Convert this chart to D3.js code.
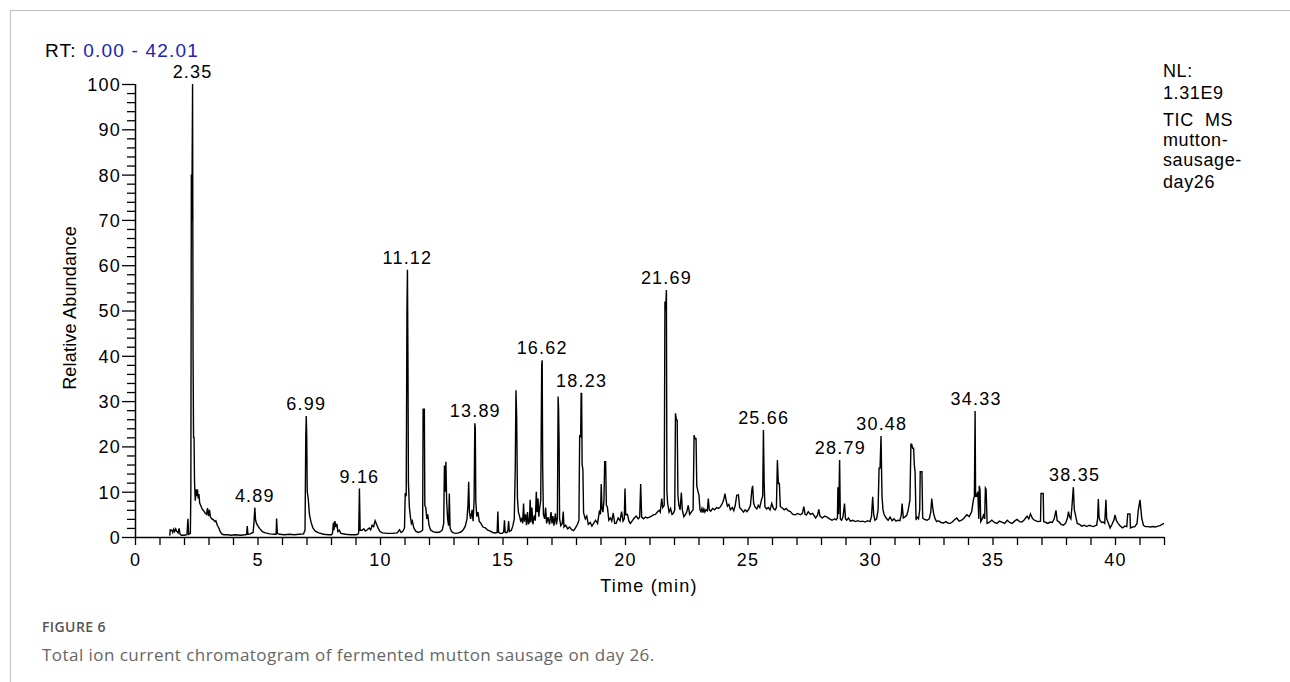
<!DOCTYPE html>
<html>
<head>
<meta charset="utf-8">
<script src="https://cdn.jsdelivr.net/npm/d3@7"></script>
<style>
  html, body { margin: 0; padding: 0; background: #ffffff; }
  svg { display: block; }
  .lbl { font-family: "Liberation Sans", Arial, sans-serif; font-size: 18px; letter-spacing: 1.2px; fill: #000; }
</style>
</head>
<body>
<svg id="chart" width="1290" height="682"></svg>
<script>
// ---------------- data ----------------
const rtRange = [0.00, 42.01];
const xTickValues = d3.range(0, 43, 1);
const xTickLabels = [0, 5, 10, 15, 20, 25, 30, 35, 40];
const yTickValues = d3.range(0, 101, 2);
const yTickLabels = [0, 10, 20, 30, 40, 50, 60, 70, 80, 90, 100];
const peakLabels = [2.35, 4.89, 6.99, 9.16, 11.12, 13.89, 16.62, 18.23, 21.69, 25.66, 28.79, 30.48, 34.33, 38.35];
const infoLines = ["NL:", "1.31E9", "TIC  MS", "mutton-", "sausage-", "day26"];

// retention time (min)
const rtMin = [
 1.42,1.44,1.50,1.54,1.58,1.62,1.66,1.70,1.76,1.80,1.84,1.90,2.00,2.12,2.16,2.19,2.26,2.28,2.30,2.32,2.35,2.37,2.39,2.41,2.43,2.46,2.49,2.52,2.55,2.58,2.61,2.64,2.68,2.74,2.80,2.86,2.92,2.96,3.00,3.04,3.08,3.14,3.20,3.26,3.30,3.36,3.42,3.48,3.54,3.62,3.80,3.90,
 4.10,4.30,4.50,4.56,4.58,4.61,4.70,4.82,4.86,4.89,4.92,4.96,5.02,5.10,5.20,5.32,5.50,5.70,5.76,5.78,5.81,5.90,6.10,6.30,6.50,6.70,6.88,6.94,6.97,6.99,7.01,7.03,7.07,7.12,7.18,7.26,7.36,7.50,7.70,7.90,
 8.02,8.06,8.10,8.12,8.16,8.20,8.24,8.28,8.34,8.40,8.60,8.80,9.00,9.10,9.13,9.16,9.19,9.26,9.34,9.40,9.48,9.56,9.62,9.68,9.74,9.80,9.86,9.92,10.00,10.10,10.30,10.50,10.70,10.80,10.86,10.94,
 11.00,11.03,11.07,11.10,11.12,11.14,11.16,11.20,11.24,11.28,11.32,11.38,11.46,11.56,11.66,11.74,11.76,11.81,11.83,11.87,11.91,11.95,12.00,12.06,12.16,12.30,12.44,12.54,12.60,12.63,12.66,12.69,12.72,12.76,12.80,12.83,12.86,12.92,13.00,13.10,13.20,13.30,13.40,13.48,13.55,13.59,13.62,13.65,13.70,13.76,13.80,13.84,13.87,13.89,13.91,13.95,14.00,14.05,14.12,14.20,14.30,14.40,14.50,
 14.60,14.70,14.78,14.81,14.84,14.90,15.00,15.05,15.08,15.11,15.18,15.22,15.25,15.28,15.36,15.42,15.48,15.52,15.55,15.58,15.61,15.65,15.70,15.74,15.78,15.82,15.86,15.89,15.94,15.98,16.02,16.06,16.10,16.13,16.16,16.20,16.24,16.30,16.34,16.38,16.41,16.45,16.48,16.52,16.56,16.60,16.62,16.64,16.67,16.72,16.76,16.80,16.86,16.92,16.98,
 17.02,17.06,17.10,17.16,17.20,17.24,17.27,17.29,17.31,17.33,17.38,17.44,17.48,17.51,17.58,17.66,17.74,17.82,17.90,17.98,18.06,18.12,18.15,18.19,18.21,18.23,18.25,18.28,18.31,18.38,18.44,18.50,18.58,18.65,18.72,18.80,18.88,18.96,19.00,19.03,19.06,19.10,19.14,19.17,19.21,19.24,19.28,19.34,19.40,19.46,19.52,19.58,19.64,19.72,19.80,19.86,19.92,19.97,20.00,20.03,20.10,20.16,20.22,20.30,20.38,20.46,20.54,20.60,20.64,20.68,20.76,20.84,20.92,
 21.00,21.08,21.16,21.24,21.32,21.40,21.44,21.50,21.54,21.60,21.63,21.66,21.69,21.71,21.74,21.80,21.86,21.92,21.98,22.03,22.06,22.10,22.13,22.16,22.20,22.25,22.30,22.34,22.40,22.46,22.52,22.58,22.64,22.72,22.78,22.82,22.86,22.90,22.93,22.98,23.02,23.06,23.10,23.14,23.18,23.22,23.26,23.30,23.36,23.40,23.44,23.50,23.58,23.66,23.74,23.82,23.90,23.98,
 24.04,24.08,24.13,24.18,24.24,24.30,24.38,24.44,24.50,24.56,24.63,24.68,24.76,24.84,24.90,24.98,25.06,25.12,25.18,25.21,25.25,25.30,25.38,25.44,25.50,25.57,25.62,25.65,25.68,25.71,25.78,25.85,25.92,25.99,26.06,26.13,26.18,26.22,26.26,26.30,26.34,26.42,26.50,26.58,26.66,26.75,26.85,26.95,
 27.05,27.16,27.24,27.30,27.35,27.41,27.48,27.57,27.66,27.78,27.86,27.91,27.96,28.05,28.15,28.25,28.35,28.45,28.55,28.62,28.67,28.69,28.72,28.76,28.79,28.84,28.90,28.96,29.00,29.05,29.12,29.20,29.30,29.40,29.50,29.60,29.70,29.80,29.90,
 30.00,30.06,30.11,30.15,30.20,30.27,30.33,30.37,30.41,30.45,30.49,30.53,30.58,30.66,30.74,30.82,30.90,30.98,31.06,31.14,31.22,31.28,31.31,31.36,31.44,31.50,31.56,31.63,31.67,31.70,31.74,31.78,31.81,31.84,31.88,31.90,31.98,32.03,32.05,32.12,32.15,32.22,32.33,32.42,32.48,32.52,32.56,32.60,32.66,32.72,32.80,32.90,
 33.00,33.10,33.20,33.27,33.36,33.45,33.54,33.64,33.74,33.84,33.95,34.05,34.15,34.22,34.26,34.29,34.31,34.35,34.40,34.44,34.46,34.49,34.52,34.58,34.63,34.68,34.71,34.74,34.78,34.86,34.97,
 35.08,35.18,35.28,35.38,35.50,35.60,35.70,35.80,35.90,36.00,36.10,36.20,36.30,36.41,36.48,36.55,36.62,36.68,36.76,36.84,36.96,36.98,37.07,37.09,37.18,37.26,37.35,37.44,37.52,37.59,37.64,37.72,37.80,37.89,37.98,
 38.06,38.10,38.15,38.20,38.24,38.30,38.34,38.37,38.41,38.46,38.55,38.64,38.74,38.85,38.95,39.05,39.12,39.20,39.25,39.29,39.32,39.35,39.39,39.46,39.52,39.58,39.63,39.66,39.72,39.80,39.88,39.96,
 40.00,40.06,40.14,40.22,40.31,40.40,40.48,40.52,40.61,40.63,40.72,40.81,40.90,40.95,41.02,41.06,41.09,41.16,41.24,41.35,41.45,41.55,41.65,41.75,41.84,41.92,42.00
];

// relative abundance (%)
const relAbundance = [
 0.3,1.6,1.5,1.0,1.7,1.2,1.8,1.3,0.9,1.9,0.6,0.4,0.4,0.5,4.0,0.6,0.8,10,80,70,100,40,22,22,12,8,10.5,9,10.5,8.5,9.5,7.5,7.0,6.2,5.8,5.3,5.0,6.4,4.6,6.0,4.4,4.0,3.8,3.4,3.6,2.6,2.0,1.2,0.7,0.5,0.5,0.4,
 0.5,0.4,0.5,0.6,2.4,0.6,0.7,1.0,3.5,6.5,3.8,3.0,2.4,1.8,1.2,0.9,0.7,0.6,0.6,4.1,0.8,0.6,0.5,0.6,0.5,0.6,0.7,1.5,22,26.7,22,10,8.5,5.0,3.4,2.0,1.3,0.9,0.6,0.5,
 0.5,0.8,3.2,1.5,3.5,2.2,2.9,1.2,1.5,0.8,0.6,0.5,0.5,0.6,1.0,10.7,1.5,1.5,1.8,1.3,1.6,2.0,1.6,2.6,2.3,3.6,2.8,2.0,1.2,0.9,0.8,0.8,0.9,1.6,1.0,1.3,
 2.0,9.7,9.0,50,59,40,12,6.5,4.5,3.0,3.5,2.0,1.3,1.0,1.2,1.5,28.2,28.2,7,6.5,4.0,5.0,2.6,1.6,1.2,1.0,1.1,1.5,3.0,15.8,10,16.6,8.0,4.0,2.5,9.6,2.0,1.2,0.9,0.8,0.9,1.1,1.6,2.4,4.0,7.0,12.2,5.5,4.0,6.0,3.5,8,25.1,24,8,4.5,5.5,3.5,3.0,2.2,2.0,1.5,1.3,
 1.0,0.9,1.0,5.6,1.0,0.8,0.8,1.2,3.7,1.0,1.0,1.5,3.5,1.2,1.5,2.4,4.0,15,32.4,26,8.5,5.5,4.5,3.6,4.0,3.0,7.4,3.4,5.0,2.6,5.5,2.8,3.5,8.2,3.2,6.5,2.8,4.8,3.6,10,5.5,8.5,4.5,6.5,8,38,39,15,5.0,4.0,6.5,3.0,4.4,2.8,5.5,
 3.0,4.6,2.5,5.2,2.8,4.0,31,28,20.7,4.0,2.5,3.0,5.6,2.2,2.6,1.8,2.2,1.6,1.4,2.0,2.8,3.7,22.5,22,31.7,31.7,16,15,5.3,4.0,4.6,2.8,3.2,2.4,3.0,3.7,3.0,5.9,5.0,11.7,6.3,5.5,8,16.6,16.6,7,6.7,3.7,4.2,3.5,5.3,3.0,3.0,4.2,3.6,5.6,3.5,4.0,10.7,4.9,5.0,3.5,3.0,3.6,4.2,4.6,4.0,4.4,11.7,4.4,4.0,4.4,4.2,
 4.4,4.6,4.9,5.0,5.5,5.9,5.5,8.5,6.5,7.0,52,50,54.5,10,7.4,5.5,6.3,5.0,5.3,6.0,27.3,25.8,25.8,9.2,7.0,6.0,9.8,6.0,4.5,4.9,5.5,7.0,5.0,5.6,6.0,22.5,21.7,21.7,11.3,10,9.2,6.0,5.6,6.3,5.4,6.2,5.5,6.0,5.8,8.5,6.0,5.7,6.3,6.0,6.5,6.3,6.7,7.5,
 8.5,9.6,8.0,6.8,7.2,6.0,6.5,5.8,7.0,9.2,9.3,6.5,6.0,5.5,6.0,5.6,6.2,7.0,10.5,11.3,7.5,6.7,6.2,7.0,6.5,8.2,9.0,23.6,12,6.7,6.2,6.5,6.0,7.4,6.3,6.0,6.5,17,11.8,11.8,6.7,6.4,6.0,6.3,5.8,5.6,5.0,4.9,
 5.2,4.9,5.2,6.7,5.0,4.9,5.6,5.0,5.2,4.2,4.8,6.1,4.6,4.2,4.6,4.4,4.0,3.7,4.0,3.8,4.2,11,5,17,4.0,3.7,4.5,7.4,4.0,3.7,4.2,3.5,3.7,3.4,3.6,3.4,3.5,3.3,3.6,
 3.4,4.5,8.9,5.0,3.7,4.0,6.0,15.2,15.2,22.3,9,6.0,4.9,4.2,3.7,4.4,3.6,4.0,3.5,3.7,3.6,5.0,7.4,4.2,4.5,4.8,6.0,8.2,20.5,20.5,19.6,19.6,15.8,14.4,3.7,4.5,4.0,6.0,14.4,14.4,4.2,3.9,3.7,4.0,5.5,8.5,6.5,5.1,4.0,3.4,3.6,3.2,
 3.1,3.4,3.0,3.0,3.3,3.8,4.2,3.5,3.7,4.2,4.9,4.5,5.6,8.2,9,27.8,9.0,9.0,10,4.0,11.3,10.5,3.4,4.0,4.8,4.0,10.8,10.5,3.0,3.2,3.7,
 3.2,3.0,3.5,3.3,3.0,3.7,3.2,3.0,3.5,3.9,3.4,3.3,3.8,4.6,4.0,5.1,4.2,3.8,3.6,3.4,3.5,9.6,9.6,3.4,3.2,3.0,3.3,3.2,4.0,5.9,3.6,3.3,2.8,2.6,3.0,
 4.2,5.6,4.4,4.0,6.5,11,6.0,5.3,4.2,3.0,2.8,2.4,2.6,2.3,2.6,2.4,2.3,2.5,2.6,4.0,8.4,4.4,3.6,3.2,3.3,3.0,8.2,4.0,3.2,2.0,2.8,3.8,
 4.9,3.6,2.9,2.4,2.0,2.4,2.3,5.1,5.1,2.0,2.2,2.3,3.0,5.9,8.2,6.0,4.2,2.6,2.3,2.3,2.2,2.3,2.2,2.4,2.5,2.8,3.0
];

// ---------------- drawing ----------------
const svg = d3.select("#chart");

// outer frame (partial page border)
svg.append("rect").attr("x", 10.5).attr("y", 10.5).attr("width", 1400).attr("height", 800)
  .attr("fill", "none").attr("stroke", "#c4c4c4").attr("stroke-width", 1.2);

const x = d3.scaleLinear().domain(rtRange).range([135, 135 + 42.01 * 24.5]);
const y = d3.scaleLinear().domain([0, 100]).range([537, 84]);

const data = rtMin.map((t, i) => ({ t, a: relAbundance[i] }));

// trace
const line = d3.line().x(d => x(d.t)).y(d => y(d.a));
svg.append("path").datum(data).attr("d", line)
  .attr("fill", "none").attr("stroke", "#000").attr("stroke-width", 1.4).attr("stroke-linejoin", "miter");

// x axis
const xAxis = d3.axisBottom(x).tickValues(xTickValues).tickSize(8)
  .tickFormat(d => xTickLabels.includes(d) ? String(d) : "");
const gx = svg.append("g").attr("transform", "translate(0,537)").call(xAxis);
gx.select(".domain").attr("d", `M${x(0)},0.5H${x(42.01)}`).attr("stroke", "#000").attr("stroke-width", 1.5);
gx.selectAll(".tick line").attr("stroke", "#000").attr("stroke-width", 1.3);
gx.selectAll(".tick text").attr("class", "lbl").attr("dy", null).attr("y", 29);

// y axis
const yAxis = d3.axisLeft(y).tickValues(yTickValues)
  .tickSize(0).tickFormat(d => yTickLabels.includes(d) ? String(d) : "");
const gy = svg.append("g").attr("transform", "translate(135,0)").call(yAxis);
gy.select(".domain").attr("d", `M0.5,${y(0)}V${y(100)}`).attr("stroke", "#000").attr("stroke-width", 1.5);
gy.selectAll(".tick line").attr("x2", d => yTickLabels.includes(d) ? -13 : -8)
  .attr("stroke", "#000").attr("stroke-width", 1.3);
gy.selectAll(".tick text").attr("class", "lbl").attr("x", -14).attr("dy", "0.36em").attr("text-anchor", "end");

// axis titles
svg.append("text").attr("class", "lbl").attr("x", 649).attr("y", 592)
  .attr("text-anchor", "middle").text("Time (min)");
svg.append("text").attr("class", "lbl")
  .attr("transform", "translate(76,308) rotate(-90)")
  .attr("text-anchor", "middle").style("letter-spacing", "0.2px").text("Relative Abundance");

// RT header
const rt = svg.append("text").attr("class", "lbl").attr("x", 45).attr("y", 57).style("font-size", "19px");
rt.append("tspan").text("RT: ");
rt.append("tspan").style("fill", "#2222b4")
  .text(`${rtRange[0].toFixed(2)} - ${rtRange[1].toFixed(2)}`);

// info block on the right
const infoY = [77, 99, 126, 146, 166, 188];
svg.append("g").selectAll("text").data(infoLines).join("text")
  .attr("class", "lbl").attr("xml:space", "preserve")
  .style("white-space", "pre").style("letter-spacing", "0.6px")
  .attr("x", 1163).attr("y", (d, i) => infoY[i])
  .text(d => d);

// peak labels
svg.append("g").selectAll("text").data(peakLabels).join("text")
  .attr("class", "lbl").attr("text-anchor", "middle")
  .attr("x", d => x(d))
  .attr("y", d => {
    const near = data.filter(p => Math.abs(p.t - d) <= 0.07);
    return y(d3.max(near, p => p.a)) - 6;
  })
  .text(d => d.toFixed(2));

// caption
svg.append("text").attr("x", 42).attr("y", 632)
  .style("font-family", "'Open Sans', 'Noto Sans', sans-serif").style("font-size", "14px")
  .style("letter-spacing", "0.4px")
  .style("font-weight", "600").attr("fill", "#555").text("FIGURE 6");
svg.append("text").attr("x", 42).attr("y", 661)
  .style("font-family", "'Open Sans', 'Noto Sans', sans-serif").style("font-size", "17px")
  .style("letter-spacing", "0.45px")
  .attr("fill", "#666").text("Total ion current chromatogram of fermented mutton sausage on day 26.");
</script>
</body>
</html>
